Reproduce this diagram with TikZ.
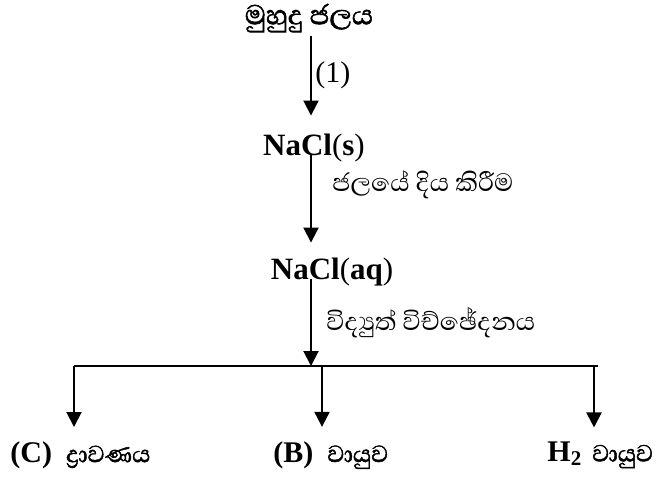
\documentclass[tikz,border=0pt]{standalone}
\usepackage{fontspec}
\setmainfont{Liberation Serif}
\newfontfamily\sinhalafont[Script=Sinhala]{Abhaya Libre}
\newfontfamily\sinhalabold[Script=Sinhala, FakeBold=1.6]{Abhaya Libre}
\usetikzlibrary{arrows.meta, positioning}

\begin{document}
\begin{tikzpicture}[
    x=0.5pt, y=-0.5pt,
    chem/.style={inner sep=0pt, font=\fontsize{15.5}{17}\selectfont},
    stagetext/.style={inner sep=0pt, font=\fontsize{17.5}{20}\selectfont\sinhalabold},
    steplabel/.style={inner sep=0pt, anchor=west, font=\fontsize{16}{18}\selectfont\sinhalafont},
    numlabel/.style={inner sep=0pt, anchor=west, font=\fontsize{15}{17}\selectfont},
    product/.style={inner sep=0pt, anchor=west, font=\fontsize{15}{17}\selectfont},
    arrow/.style={-{Triangle[width=7.5pt,length=7.5pt]}, line width=1pt},
    branch/.style={line width=0.75pt}
]
\useasboundingbox (0,0) rectangle (656,477);

% Stages
\node[stagetext] (sea) at (309,18) {මුහුදු ජලය};
\node[chem] (solid) at (314,148) {\textbf{NaCl}(\textbf{s})};
\node[chem] (aq) at (332,272) {\textbf{NaCl}(\textbf{aq})};

% Products
\node[product] (prodC) at (10,455) {\textbf{(C)}\hspace{7pt}{\sinhalabold ද්^^^^200dරාවණය}};
\node[product] (prodB) at (273,455) {\textbf{(B)}\hspace{7pt}{\sinhalabold වායුව}};
\node[product] (prodH) at (547,455) {\textbf{H\textsubscript{2}}\hspace{5pt}{\sinhalabold වායුව}};

% Step labels
\node[numlabel] (one) at (315,75) {(1)};
\node[steplabel] (dissolve) at (332,185) {ජලයේ දිය කිරීම};
\node[steplabel] (electro) at (326,323) {විද්^^^^200dයුත් විච්ඡේදනය};

% Main axis
\coordinate (axis) at (311,0);
\coordinate (junc) at (311,366);
\coordinate (bl) at (74,366);
\coordinate (bm) at (322,366);
\coordinate (br) at (594,366);
\coordinate (brend) at (598,366);

\draw[arrow] ([yshift=-1.5pt]axis |- sea.south) -- ([yshift=9pt]axis |- solid.north);
\draw[arrow] (axis |- solid.base) -- ([yshift=7.5pt]axis |- aq.north);
\draw[arrow] (axis |- aq.base) -- (junc);

% Branches
\draw[branch] (bl) -- (brend);
\draw[arrow] (bl) -- ([yshift=7pt]bl |- prodC.north);
\draw[arrow] (bm) -- ([yshift=7pt]bm |- prodB.north);
\draw[arrow] (br) -- ([yshift=7pt]br |- prodH.north);

\end{tikzpicture}
\end{document}
